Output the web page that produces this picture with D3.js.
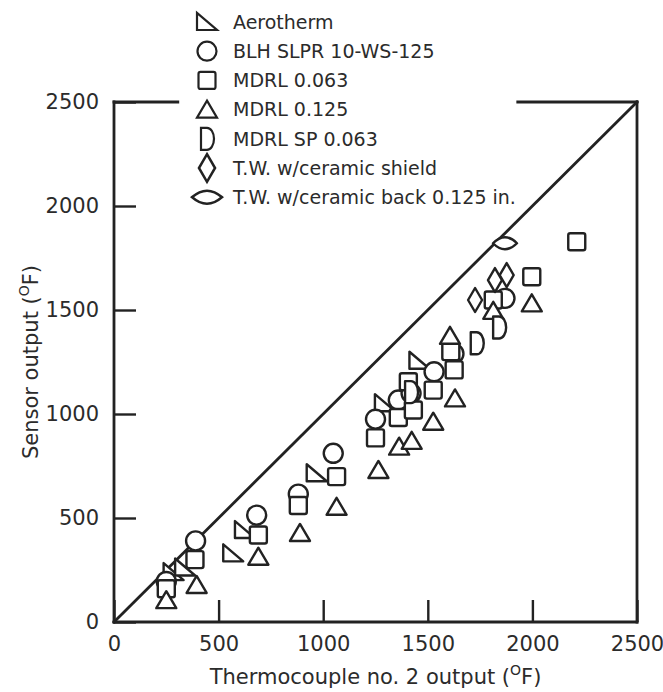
<!DOCTYPE html>
<html>
<head>
<meta charset="utf-8">
<script src="https://cdn.jsdelivr.net/npm/d3@7"></script>
<style>
	body { margin: 0; background: #fff; }
	text { font-family: "DejaVu Sans", Verdana, sans-serif; fill: #2b2b2b; }
</style>
</head>
<body>
<div id="chart"></div>
<script>
const TICKS = [0, 500, 1000, 1500, 2000, 2500];

const SERIES_NAMES = [
	"Aerotherm",
	"BLH SLPR 10-WS-125",
	"MDRL 0.063",
	"MDRL 0.125",
	"MDRL SP 0.063",
	"T.W. w/ceramic shield",
	"T.W. w/ceramic back 0.125 in.",
];

const aerotherm = [[285, 240], [340, 262], [570, 330], [626, 442], [969, 715], [1295, 1052], [1460, 1256]];
const blh = [[250, 195], [390, 390], [682, 514], [881, 615], [1048, 811], [1250, 975], [1359, 1067], [1420, 1100], [1530, 1203], [1625, 1290], [1869, 1556]];
const mdrl063 = [[250, 160], [387, 300], [690, 418], [881, 560], [1064, 699], [1250, 885], [1359, 983], [1407, 1155], [1431, 1019], [1526, 1115], [1610, 1300], [1626, 1212], [1813, 1548], [1997, 1660], [2212, 1828]];
const mdrl125 = [[250, 105], [395, 178], [690, 314], [889, 428], [1064, 554], [1264, 731], [1363, 843], [1423, 871], [1526, 963], [1630, 1075], [1606, 1376], [1813, 1496], [1997, 1532]];
const mdrlSP = [[1420, 1105], [1734, 1340], [1841, 1416]];
const twShield = [[1726, 1548], [1821, 1644], [1877, 1668]];
const twBack = [[1869, 1821]];

const SERIES_DATA = [aerotherm, blh, mdrl063, mdrl125, mdrlSP, twShield, twBack];

// marker outlines, centred on 0,0
const SHAPES = [
	"M-10,-9L-10,8L10,8Z",
	"M9.5,0A9.5,9.5 0 1 1 -9.5,0A9.5,9.5 0 1 1 9.5,0Z",
	"M-8.5,-6.5Q-8.5,-8.5 -6.5,-8.5L6.5,-8.5Q8.5,-8.5 8.5,-6.5L8.5,6.5Q8.5,8.5 6.5,8.5L-6.5,8.5Q-8.5,8.5 -8.5,6.5Z",
	"M0,-9L10,8L-10,8Z",
	"M-6,-11L0,-11A7,11 0 0 1 0,11L-6,11Z",
	"M0,-12L7,0L0,12L-7,0Z",
	"M-12,0Q0,-12 12,0Q0,12 -12,0Z",
];

const width = 663, height = 692;
const margin = { top: 102, right: 26, bottom: 70, left: 114 };

let x = d3.scaleLinear()
	.domain([0, 2500])
	.range([margin.left, width - margin.right]);
let y = d3.scaleLinear()
	.domain([0, 2500])
	.range([height - margin.bottom, margin.top]);

let svg = d3.select("#chart")
	.append("svg")
		.attr("width", width)
		.attr("height", height)
		.attr("viewBox", `0 0 ${width} ${height}`);

let axisX = svg.append("g")
	.attr("class", "axis x")
	.attr("transform", `translate(0, ${y(0)})`)
	.call(d3.axisBottom(x).tickValues(TICKS).tickFormat(d3.format("d")).tickSizeInner(-22).tickSizeOuter(0).tickPadding(14));
let axisY = svg.append("g")
	.attr("class", "axis y")
	.attr("transform", `translate(${x(0)}, 0)`)
	.call(d3.axisLeft(y).tickValues(TICKS).tickFormat(d3.format("d")).tickSizeInner(-22).tickSizeOuter(0).tickPadding(15));

for (let axis of [axisX, axisY]) {
	axis.select(".domain").remove();
	axis.selectAll("line")
		.attr("stroke", "#222")
		.attr("stroke-width", 2.4);
	axis.selectAll("text")
		.attr("font-size", 21)
		.style("font-family", "'DejaVu Sans', Verdana, sans-serif")
		.attr("fill", "#2b2b2b");
}

// frame, top edge is broken by the legend
let frame = [
	[[0, 0], [0, 2500]],
	[[0, 0], [2500, 0]],
	[[2500, 0], [2500, 2500]],
	[[0, 2500], [305, 2500]],
	[[1930, 2500], [2500, 2500]],
	[[0, 0], [2500, 2500]],
];
svg.append("g")
	.attr("class", "frame")
	.selectAll("line")
		.data(frame)
		.enter()
		.append("line")
			.attr("x1", d => x(d[0][0]))
			.attr("y1", d => y(d[0][1]))
			.attr("x2", d => x(d[1][0]))
			.attr("y2", d => y(d[1][1]))
			.attr("stroke", "#222")
			.attr("stroke-width", 2.8)
			.attr("stroke-linecap", "square");

let series = svg.append("g")
	.attr("class", "chart")
	.selectAll("g")
		.data(SERIES_DATA)
		.enter()
		.append("g")
			.attr("class", "series");

series.selectAll("path")
	.data((d, i) => d.map(p => ({ p: p, shape: SHAPES[i] })))
	.enter()
	.append("path")
		.attr("transform", d => `translate(${x(d.p[0])}, ${y(d.p[1])})`)
		.attr("d", d => d.shape)
		.attr("fill", "#fff")
		.attr("stroke", "#222")
		.attr("stroke-width", 2.4)
		.attr("stroke-linejoin", "round");

let legend = svg.append("g")
	.attr("class", "legend")
	.selectAll("g")
		.data(SERIES_NAMES)
		.enter()
		.append("g")
			.attr("transform", (d, i) => `translate(207, ${22 + i * 29.2})`);
legend.append("path")
	.attr("d", (d, i) => SHAPES[i])
	.attr("transform", (d, i) => i == 6 ? "scale(1.25, 1.1)" : i == 5 ? "scale(1.15)" : "scale(1)")
	.attr("fill", "#fff")
	.attr("stroke", "#222")
	.attr("stroke-width", 2.2);
legend.append("text")
	.attr("x", 26)
	.attr("dy", "0.36em")
	.attr("font-size", 19)
	.text(d => d);

svg.append("text")
	.attr("text-anchor", "middle")
	.attr("x", (x(0) + x(2500)) / 2)
	.attr("y", 684)
	.attr("font-size", 21)
	.call(t => {
		t.append("tspan").text("Thermocouple no. 2 output (");
		t.append("tspan").attr("font-size", 14).attr("dy", -9).text("O");
		t.append("tspan").attr("dy", 9).text("F)");
	});

svg.append("text")
	.attr("text-anchor", "middle")
	.attr("transform", `translate(38, ${(y(0) + y(2500)) / 2}) rotate(-90)`)
	.attr("font-size", 21)
	.call(t => {
		t.append("tspan").text("Sensor output (");
		t.append("tspan").attr("font-size", 14).attr("dy", -9).text("O");
		t.append("tspan").attr("dy", 9).text("F)");
	});
</script>
</body>
</html>
